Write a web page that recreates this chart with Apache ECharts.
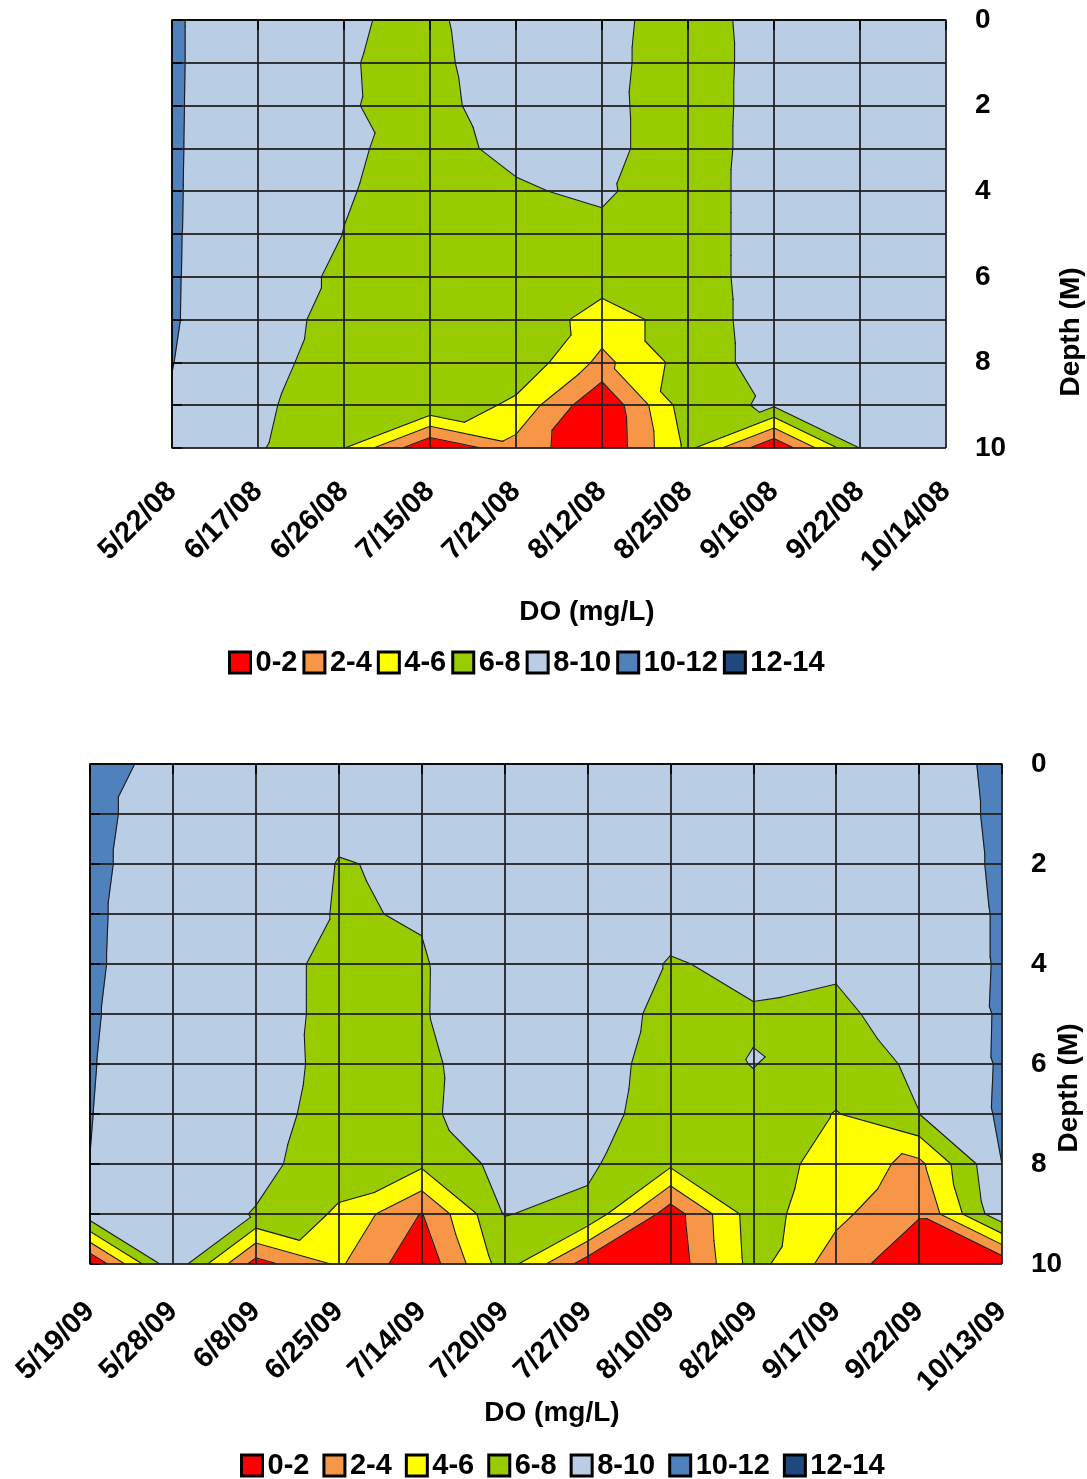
<!DOCTYPE html>
<html>
<head>
<meta charset="utf-8">
<script src="https://cdn.jsdelivr.net/npm/echarts@6/dist/echarts.min.js"></script>
<style>
html,body{margin:0;padding:0;background:#fff;}
#chart{width:1087px;height:1479px;}
</style>
</head>
<body>
<div id="chart"></div>
<script>
// ---------- DATA ----------
const dates2008 = ['5/22/08','6/17/08','6/26/08','7/15/08','7/21/08','8/12/08','8/25/08','9/16/08','9/22/08','10/14/08'];
const dates2009 = ['5/19/09','5/28/09','6/8/09','6/25/09','7/14/09','7/20/09','7/27/09','8/10/09','8/24/09','9/17/09','9/22/09','10/13/09'];
const depthsM = [0,1,2,3,4,5,6,7,8,9,10];
const depthTickLabels = ['0','2','4','6','8','10'];
const doBands = ['0-2','2-4','4-6','6-8','8-10','10-12','12-14'];
const bandEdges = [0,2,4,6,8,10,12,14];

// DO (mg/L) for each sampling date (one row per date), at depths 0..10 m
const do2008 = [
  [10.18,10.18,10.17,10.16,10.15,10.14,10.13,10.12,10.03,9.9,9.7],
  [9.0,9.0,9.0,9.0,9.0,8.95,8.9,8.9,8.8,8.4,8.2],
  [8.1,8.06,8.07,8.17,8.09,7.98,7.68,7.32,6.94,6.66,6.05],
  [7.8,7.75,7.7,7.6,7.5,7.45,7.4,7.4,7.5,7.8,0.1],
  [8.7,8.6,8.5,8.3,7.85,7.6,7.5,7.5,7.6,5.5,3.3],
  [8.8,8.7,8.6,8.6,8.25,7.6,6.9,5.1,3.46,0.2,0.1],
  [6.7,6.7,6.75,6.8,6.9,6.9,6.9,6.9,6.9,7.2,6.5],
  [9.2,9.1,9.1,9.1,9.1,9.1,9.1,9.0,8.9,8.3,0.2],
  [9.2,9.2,9.2,9.2,9.2,9.2,9.2,9.2,9.2,9.0,8.05],
  [9.3,9.3,9.3,9.3,9.3,9.3,9.3,9.3,9.3,9.3,9.3]
];
const do2009 = [
  [11.17,10.52,10.39,10.28,10.25,10.16,10.09,10.04,9.99,9.2,0.0],
  [9.0,9.0,9.0,9.0,9.0,9.0,9.0,9.0,9.0,9.0,9.5],
  [9.2,9.1,9.0,9.0,9.0,9.0,8.9,8.8,8.5,7.9,1.17],
  [9.0,8.3,7.95,7.88,7.36,7.36,7.4,7.2,7.0,5.7,4.3],
  [9.1,9.0,8.15,8.1,7.87,7.88,7.65,7.7,6.4,1.9,0.5],
  [9.2,9.2,9.2,9.2,9.2,9.1,9.0,8.9,8.6,8.05,7.0],
  [9.1,9.1,9.1,9.1,9.0,9.0,8.9,8.8,8.3,7.6,1.0],
  [9.0,9.0,8.9,8.5,7.9,7.5,7.2,7.0,6.4,0.9,0.5],
  [9.0,9.0,9.0,8.8,8.3,7.9,8.05,7.5,7.3,7.0,6.8],
  [9.2,9.2,9.2,9.0,8.2,7.7,7.1,5.9,5.0,4.5,3.0],
  [9.2,9.2,9.2,9.1,9.0,8.7,8.3,7.98,3.5,2.15,0.6],
  [10.35,10.28,10.21,10.15,10.15,10.18,10.2,10.25,10.0,9.5,0.5]
];

// ---------- STYLE ----------
const bandColors = ['#FF0000','#F79646','#FFFF00','#99CC00','#B9CDE5','#4F81BD','#1F497D'];
const FONT = '"Liberation Sans", Arial, sans-serif';

// ---------- CONTOUR RENDERING ----------
function clipPoly(pts, L, keepAbove) {
  const out = [];
  const n = pts.length;
  for (let i = 0; i < n; i++) {
    const a = pts[i], b = pts[(i + 1) % n];
    const ina = keepAbove ? a.v >= L : a.v <= L;
    const inb = keepAbove ? b.v >= L : b.v <= L;
    if (ina) out.push(a);
    if (ina !== inb) {
      const t = (L - a.v) / (b.v - a.v);
      out.push({x: a.x + t * (b.x - a.x), y: a.y + t * (b.y - a.y), v: L});
    }
  }
  return out;
}
function isoSeg(tri, L) {
  const pts = [];
  for (let i = 0; i < 3; i++) {
    const p = tri[i], q = tri[(i + 1) % 3];
    if ((p.v < L) !== (q.v < L)) {
      const t = (L - p.v) / (q.v - p.v);
      pts.push({x: p.x + t * (q.x - p.x), y: p.y + t * (q.y - p.y)});
    }
  }
  return pts.length === 2 ? pts : null;
}
function makeRenderer(values) {
  return function (params, api) {
    const fills = [], lines = [];
    const nc = values.length, nr = depthsM.length;
    const levels = bandEdges.slice(1, bandEdges.length - 1);
    for (let i = 0; i < nc - 1; i++) {
      for (let j = 0; j < nr - 1; j++) {
        const a = {x: i, y: depthsM[j], v: values[i][j]};
        const b = {x: i + 1, y: depthsM[j], v: values[i + 1][j]};
        const c = {x: i + 1, y: depthsM[j + 1], v: values[i + 1][j + 1]};
        const d = {x: i, y: depthsM[j + 1], v: values[i][j + 1]};
        // split each cell into two triangles along the flatter diagonal
        const tris = Math.abs(a.v - c.v) <= Math.abs(b.v - d.v)
          ? [[a, b, c], [a, c, d]]
          : [[a, b, d], [b, c, d]];
        for (const tri of tris) {
          for (let k = 0; k < bandColors.length; k++) {
            let poly = tri;
            if (k > 0) poly = clipPoly(poly, bandEdges[k], true);
            if (poly.length >= 3 && k < bandColors.length - 1) poly = clipPoly(poly, bandEdges[k + 1], false);
            if (poly.length >= 3) {
              fills.push({
                type: 'polygon',
                shape: {points: poly.map(p => api.coord([p.x, p.y]))},
                style: {fill: bandColors[k], stroke: bandColors[k], lineWidth: 0.9, lineJoin: 'round'}
              });
            }
          }
          for (const L of levels) {
            const s = isoSeg(tri, L);
            if (s) {
              const p1 = api.coord([s[0].x, s[0].y]), p2 = api.coord([s[1].x, s[1].y]);
              lines.push({
                type: 'line',
                shape: {x1: p1[0], y1: p1[1], x2: p2[0], y2: p2[1]},
                style: {stroke: '#1a1a1a', lineWidth: 1.1, lineCap: 'round'}
              });
            }
          }
        }
      }
    }
    return {type: 'group', children: fills.concat(lines)};
  };
}

// ---------- AXES ----------
function xAxisFor(gridIndex, dates, margin) {
  return {
    type: 'value', gridIndex, min: 0, max: dates.length - 1, interval: 1, z: 5,
    axisLine: {show: true, lineStyle: {color: '#000', width: 1.5}},
    axisTick: {show: true, length: 10, lineStyle: {color: '#000', width: 1.5}},
    splitLine: {show: true, lineStyle: {color: '#222', width: 2, opacity: 0.9}},
    axisLabel: {
      rotate: 45, margin, color: '#000', fontFamily: FONT, fontWeight: 'bold', fontSize: 29,
      formatter: v => dates[Math.round(v)] || ''
    }
  };
}
function yAxisFor(gridIndex) {
  return {
    type: 'value', gridIndex, position: 'right', inverse: true, min: 0, max: 10, interval: 1, z: 5,
    axisLine: {show: true, lineStyle: {color: '#000', width: 1.5}},
    axisTick: {show: true, length: 10, lineStyle: {color: '#000', width: 1.5}},
    splitLine: {show: true, lineStyle: {color: '#222', width: 2, opacity: 0.9}},
    axisLabel: {
      margin: 29, color: '#000', fontFamily: FONT, fontWeight: 'bold', fontSize: 28,
      formatter: v => depthTickLabels.indexOf(String(v)) >= 0 ? String(v) : ''
    }
  };
}

const legendStyle = {
  orient: 'horizontal', itemWidth: 21, itemHeight: 21, icon: 'rect', padding: 0,
  itemStyle: {borderColor: '#000', borderWidth: 3},
  textStyle: {color: '#000', fontFamily: FONT, fontWeight: 'bold', fontSize: 29},
  selectedMode: false, data: doBands
};

const legendSeries = doBands.map((name, k) => ({
  name, type: 'bar', xAxisIndex: 0, yAxisIndex: 0, data: [],
  itemStyle: {color: bandColors[k], borderColor: '#000', borderWidth: 3}
}));

const option = {
  animation: false,
  backgroundColor: '#fff',
  grid: [
    {left: 172, top: 20, width: 774, height: 428},
    {left: 90, top: 764, width: 912, height: 500}
  ],
  xAxis: [xAxisFor(0, dates2008, 39), xAxisFor(1, dates2009, 43)],
  yAxis: [yAxisFor(0), yAxisFor(1)],
  legend: [
    Object.assign({left: 228, top: 648, itemGap: 5}, legendStyle),
    Object.assign({left: 240, top: 1451, itemGap: 13}, legendStyle)
  ],
  graphic: [
    {type: 'text', x: 587, y: 612, style: {text: 'DO (mg/L)', fill: '#000', font: 'bold 28px ' + FONT, textAlign: 'center', textVerticalAlign: 'middle'}},
    {type: 'text', x: 552, y: 1413, style: {text: 'DO (mg/L)', fill: '#000', font: 'bold 28px ' + FONT, textAlign: 'center', textVerticalAlign: 'middle'}},
    {type: 'text', x: 1071, y: 332, rotation: Math.PI / 2, style: {text: 'Depth (M)', fill: '#000', font: 'bold 28px ' + FONT, textAlign: 'center', textVerticalAlign: 'middle'}},
    {type: 'text', x: 1069, y: 1088, rotation: Math.PI / 2, style: {text: 'Depth (M)', fill: '#000', font: 'bold 28px ' + FONT, textAlign: 'center', textVerticalAlign: 'middle'}}
  ],
  series: [
    {type: 'custom', name: 'DO 2008', xAxisIndex: 0, yAxisIndex: 0, z: 2, clip: true,
     renderItem: makeRenderer(do2008), data: [[0, 0]], silent: true},
    {type: 'custom', name: 'DO 2009', xAxisIndex: 1, yAxisIndex: 1, z: 2, clip: true,
     renderItem: makeRenderer(do2009), data: [[0, 0]], silent: true}
  ].concat(legendSeries)
};

const chart = echarts.init(document.getElementById('chart'), null, {renderer: 'canvas'});
chart.setOption(option);
</script>
</body>
</html>
